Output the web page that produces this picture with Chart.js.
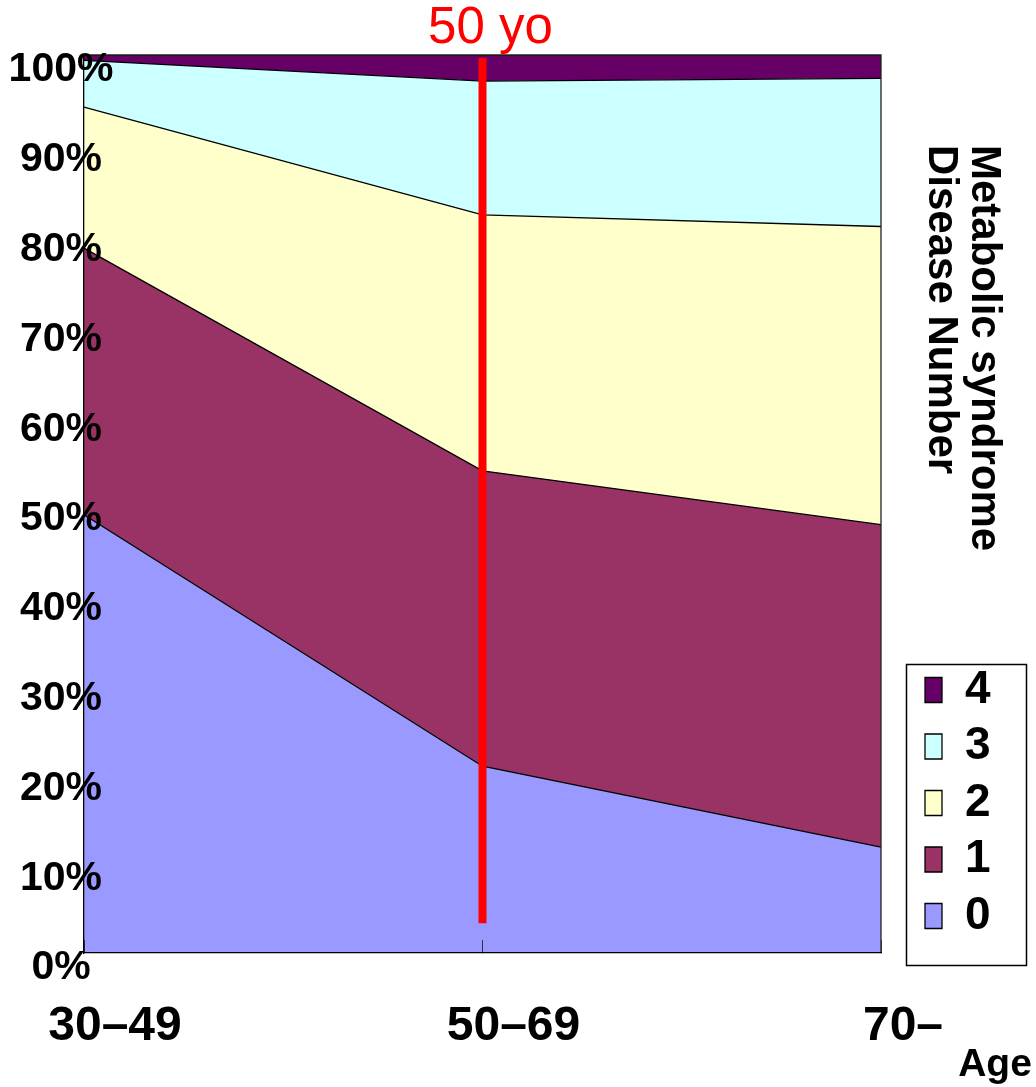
<!DOCTYPE html>
<html>
<head>
<meta charset="utf-8">
<script src="https://cdn.jsdelivr.net/npm/chart.js@4.4.0/dist/chart.umd.min.js"></script>
<style>
  html, body { margin: 0; padding: 0; background: #ffffff; }
  #wrap { width: 1036px; height: 1087px; position: relative; }
</style>
</head>
<body>
<div id="wrap"><canvas id="c" width="1036" height="1087"></canvas></div>
<script>
// ---- data ----
const categories = ['30–49', '50–69', '70–'];
const seriesNames = ['0', '1', '2', '3', '4'];
const values0 = [48.8, 20.8, 11.8];
const values1 = [29.7, 32.9, 35.9];
const values2 = [15.7, 28.5, 33.2];
const values3 = [5.2, 14.9, 16.5];
const values4 = [0.6, 2.9, 2.6];
const yTickValues = [0, 10, 20, 30, 40, 50, 60, 70, 80, 90, 100];
const markerCategory = '50–69';
const markerLabel = '50 yo';
const titleLines = ['Metabolic syndrome', 'Disease Number'];
const xAxisName = 'Age';

const seriesValues = [values0, values1, values2, values3, values4];
const fillColors = ['#9999FF', '#993366', '#FFFFCC', '#CCFFFF', '#660066'];

const datasets = seriesNames.map((name, i) => ({
  label: name,
  data: seriesValues[i],
  backgroundColor: fillColors[i],
  borderColor: '#000000',
  borderWidth: 1.3,
  pointRadius: 0,
  pointHoverRadius: 0,
  tension: 0,
  fill: i === 0 ? 'origin' : '-1'
}));

const decor = {
  id: 'decor',
  beforeLayout(chart) {
    const lg = chart.legend;
    if (lg && !lg._patched) {
      const orig = lg.fit.bind(lg);
      lg.fit = function () { orig(); this.width = 155; };
      lg._patched = true;
    }
  },
  afterLayout(chart) {
    const lg = chart.legend;
    if (lg) {
      lg.left = 914.5;
      lg.right = 1036;
      lg.top = 656.5;
      lg.bottom = 1087;
    }
  },
  beforeDraw(chart) {
    // last category label sits a little closer to its tick in the reference
    const items = chart.scales.x.getLabelItems();
    if (items && items.length === categories.length && !items._adj) {
      items[categories.length - 1].options.translation[0] -= 9;
      items._adj = true;
    }
  },
  afterDatasetsDraw(chart) {
    const ctx = chart.ctx;
    const ca = chart.chartArea;
    const xs = chart.scales.x, ys = chart.scales.y;
    ctx.save();
    ctx.strokeStyle = '#222222';
    ctx.lineWidth = 1.3;
    ctx.beginPath();
    ctx.moveTo(ca.left, ca.top);
    ctx.lineTo(ca.right, ca.top);
    ctx.lineTo(ca.right, ca.bottom);
    ctx.stroke();
    const mx = xs.getPixelForValue(categories.indexOf(markerCategory));
    ctx.strokeStyle = '#FF0000';
    ctx.lineWidth = 8;
    ctx.beginPath();
    ctx.moveTo(mx, ys.getPixelForValue(99.7));
    ctx.lineTo(mx, ys.getPixelForValue(3.3));
    ctx.stroke();
    ctx.restore();
  },
  afterDraw(chart) {
    const ctx = chart.ctx;
    const xs = chart.scales.x;
    ctx.save();
    const mx = xs.getPixelForValue(categories.indexOf(markerCategory));
    ctx.fillStyle = '#FF0000';
    ctx.font = "51px 'Liberation Sans', Arial, sans-serif";
    ctx.textAlign = 'center';
    ctx.textBaseline = 'alphabetic';
    ctx.fillText(markerLabel, mx + 8, 43);
    ctx.strokeStyle = '#000000';
    ctx.lineWidth = 1.5;
    ctx.strokeRect(906.5, 664.5, 120, 301);
    ctx.fillStyle = '#000000';
    ctx.font = "bold 42px 'Liberation Sans', Arial, sans-serif";
    ctx.textAlign = 'left';
    ctx.textBaseline = 'middle';
    ctx.translate(984, 145);
    ctx.rotate(Math.PI / 2);
    titleLines.forEach((t, i) => ctx.fillText(t, 0, i * 43));
    ctx.setTransform(1, 0, 0, 1, 0, 0);
    ctx.font = "bold 39px 'Liberation Sans', Arial, sans-serif";
    ctx.textAlign = 'center';
    ctx.textBaseline = 'alphabetic';
    ctx.fillText(xAxisName, 995, 1076);
    ctx.restore();
  }
};

new Chart(document.getElementById('c'), {
  type: 'line',
  data: { labels: categories, datasets },
  options: {
    responsive: false,
    animation: false,
    devicePixelRatio: 1,
    layout: { padding: { top: 55, left: 0, right: 0, bottom: 0 } },
    plugins: {
      legend: {
        position: 'right',
        align: 'start',
        reverse: true,
        labels: {
          boxWidth: 17,
          boxHeight: 25,
          padding: 10.5,
          color: '#000000',
          font: { family: "'Liberation Sans', Arial, sans-serif", size: 46, weight: 'bold', lineHeight: 1 }
        }
      },
      tooltip: { enabled: false },
      filler: { propagate: false }
    },
    scales: {
      x: {
        type: 'category',
        offset: false,
        afterFit(scale) { scale.height = 134; scale.paddingLeft = 0; scale.paddingRight = 0; },
        grid: { drawOnChartArea: false, drawTicks: true, tickLength: -13, color: '#333333', lineWidth: 1, z: 1 },
        border: { display: true, color: '#000000', width: 1.3, z: 1 },
        ticks: {
          color: '#000000',
          maxRotation: 0,
          autoSkip: false,
          padding: 63,
          labelOffset: 31,
          font: { family: "'Liberation Sans', Arial, sans-serif", size: 48, weight: 'bold', lineHeight: 1 }
        }
      },
      y: {
        stacked: true,
        min: 0,
        max: 100,
        afterFit(scale) { scale.width = 84; scale.paddingTop = 0; scale.paddingBottom = 0; },
        afterBuildTicks(scale) { scale.ticks = yTickValues.map(v => ({ value: v })); },
        grid: { drawOnChartArea: false, drawTicks: false },
        border: { display: true, color: '#000000', width: 1.3, z: 1 },
        ticks: {
          z: 2,
          color: '#000000',
          mirror: true,
          crossAlign: 'center',
          padding: -75.4,
          labelOffset: 15,
          callback: (v) => v + '%',
          font: { family: "'Liberation Sans', Arial, sans-serif", size: 41, weight: 'bold', lineHeight: 1 }
        }
      }
    }
  },
  plugins: [decor]
});
</script>
</body>
</html>
